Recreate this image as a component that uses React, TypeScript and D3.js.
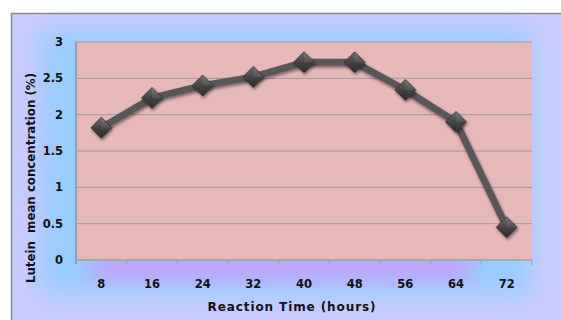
import React from "react";
import * as d3 from "d3";

const categories = ["8", "16", "24", "32", "40", "48", "56", "64", "72"];
const values = [1.82, 2.23, 2.4, 2.52, 2.72, 2.72, 2.34, 1.9, 0.45];
const yTicks = [0, 0.5, 1, 1.5, 2, 2.5, 3];
const xTitle = "Reaction Time (hours)";
const yTitle = "Lutein  mean concentration (%)";

const W = 561;
const H = 320;
const M = { left: 76, right: 532, top: 42, bottom: 260 };

export default function App() {
  const x = d3.scaleBand<string>().domain(categories).range([M.left, M.right]);
  const y = d3.scaleLinear().domain([0, 3]).range([M.bottom, M.top]);
  const line = d3
    .line<number>()
    .x((_, i) => (x(categories[i]) as number) + x.bandwidth() / 2)
    .y((d) => y(d));
  const font = "'DejaVu Sans', Verdana, sans-serif";
  const tickXs = [...categories.map((c) => x(c) as number), M.right];
  return (
    <svg
      width={W}
      height={H}
      style={{ position: "absolute", left: 0, top: 0, display: "block" }}
    >
      <defs>
        <filter id="blur" x="-20%" y="-20%" width="140%" height="140%">
          <feGaussianBlur stdDeviation="12" />
        </filter>
        <filter id="blurP" x="-20%" y="-50%" width="140%" height="200%">
          <feGaussianBlur stdDeviation="10" />
        </filter>
        <linearGradient id="mk" x1="0" y1="0" x2="0" y2="1">
          <stop offset="0" stopColor="#6e6e6e" />
          <stop offset="0.5" stopColor="#444" />
          <stop offset="1" stopColor="#2c2c2c" />
        </linearGradient>
        <filter id="sh" x="-50%" y="-50%" width="200%" height="200%">
          <feDropShadow dx="1" dy="2" stdDeviation="1.5" floodColor="#000" floodOpacity="0.45" />
        </filter>
      </defs>
      <rect x={0} y={0} width={W} height={H} fill="#ffffff" />
      <rect x={11} y={13} width={W - 11} height={H - 13} fill="#c9cbfe" />
      <g>
        <rect
          x={40}
          y={30}
          width={W - 70}
          height={H - 55}
          fill="#99ccff"
          filter="url(#blur)"
        />
        <rect
          x={90}
          y={258}
          width={380}
          height={22}
          fill="#cc99ff"
          filter="url(#blurP)"
          opacity={0.9}
        />
      </g>
      <line x1={11} y1={13.5} x2={W} y2={13.5} stroke="#8a8a8a" strokeWidth={1.5} />
      <line x1={11.5} y1={13} x2={11.5} y2={H} stroke="#8a8a8a" strokeWidth={1.5} />
      <rect
        x={M.left}
        y={M.top}
        width={M.right - M.left}
        height={M.bottom - M.top}
        fill="#e6b8b7"
      />
      {yTicks.map((t) => (
        <line
          key={t}
          x1={M.left}
          x2={M.right}
          y1={y(t)}
          y2={y(t)}
          stroke="#a09a9a"
          strokeWidth={1}
        />
      ))}
      <line x1={M.left} x2={M.left} y1={M.top} y2={M.bottom + 4} stroke="#a0a0a8" strokeWidth={2} />
      <line x1={M.left} x2={M.right} y1={M.bottom} y2={M.bottom} stroke="#a0a0a8" strokeWidth={1} />
      {tickXs.map((tx, i) => (
        <line key={i} x1={tx} x2={tx} y1={M.bottom} y2={M.bottom + 5} stroke="#a0a0a8" strokeWidth={1} />
      ))}
      {yTicks.map((t) => (
        <text
          key={t}
          x={63}
          y={y(t)}
          dy="0.35em"
          textAnchor="end"
          fontFamily={font}
          fontWeight="bold"
          fontSize={11.5}
          fill="#111"
        >
          {t}
        </text>
      ))}
      {categories.map((c) => (
        <text
          key={c}
          x={(x(c) as number) + x.bandwidth() / 2}
          y={288}
          textAnchor="middle"
          fontFamily={font}
          fontWeight="bold"
          fontSize={11.5}
          fill="#111"
        >
          {c}
        </text>
      ))}
      <text
        x={292}
        y={311}
        textAnchor="middle"
        fontFamily={font}
        fontWeight="bold"
        fontSize={12}
        letterSpacing={0.9}
        fill="#111"
      >
        {xTitle}
      </text>
      <text
        transform={`translate(35,${178}) rotate(-90)`}
        textAnchor="middle"
        fontFamily={font}
        fontWeight="bold"
        fontSize={11.8}
        fill="#111"
        style={{ whiteSpace: "pre" }}
      >
        {yTitle}
      </text>
      <path
        d={line(values) || ""}
        fill="none"
        stroke="#595959"
        strokeWidth={7}
        strokeLinejoin="round"
        filter="url(#sh)"
      />
      {values.map((v, i) => {
        const cx = (x(categories[i]) as number) + x.bandwidth() / 2;
        const cy = y(v);
        const r = 10.5;
        return (
          <g key={i} filter="url(#sh)">
            <path
              d={`M${cx},${cy - r} L${cx + r},${cy} L${cx},${cy + r} L${cx - r},${cy} Z`}
              fill="url(#mk)"
              stroke="#333"
              strokeWidth={0.8}
            />
            <path
              d={`M${cx},${cy - r} L${cx + r},${cy} L${cx},${cy} Z`}
              fill="#ffffff"
              opacity={0.08}
            />
          </g>
        );
      })}
    </svg>
  );
}
